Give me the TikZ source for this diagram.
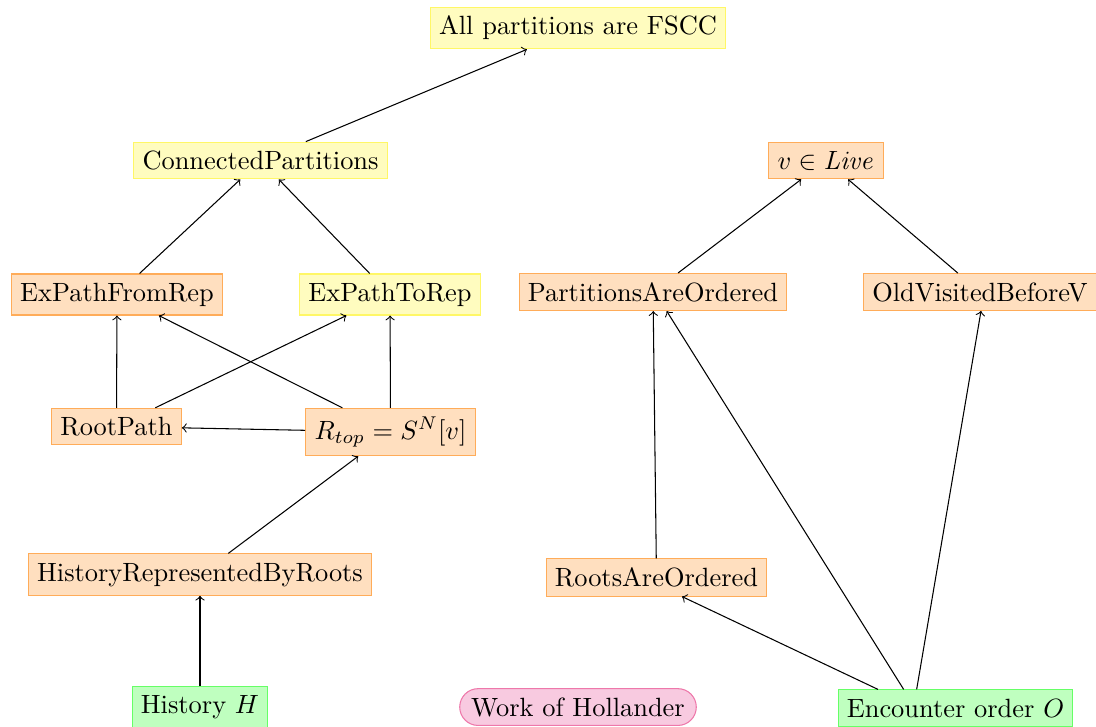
\documentclass[tikz,border=0pt]{standalone}
\usetikzlibrary{arrows}
\usetikzlibrary{shapes.misc}

\definecolor{holfill}{RGB}{248,202,224}
\definecolor{holdraw}{RGB}{238,120,170}

\begin{document}
\begin{tikzpicture}[->,>=to,auto,
                    lemma node/.style={rectangle,draw=orange!65,fill=orange!25},
                    goal node/.style={rectangle,draw=yellow!60,fill=yellow!25},
                    input node/.style={rectangle,draw=green!60,fill=green!25},
                    extern node/.style={rounded rectangle,draw=holdraw,fill=holfill}]

  \useasboundingbox (0,0) rectangle (14.593,-9.667);

  \node[goal node](fscc) at (7.696,-0.373) {All partitions are FSCC};
  \node[goal node](conn) at (3.469,-2.137) {ConnectedPartitions};
  \node[lemma node](live) at (10.998,-2.137) {$v \in \mathit{Live}$};
  \node[lemma node](from) at (1.558,-3.921) {ExPathFromRep};
  \node[goal node](to) at (5.193,-3.921) {ExPathToRep};
  \node[lemma node](pord) at (8.695,-3.888) {PartitionsAreOrdered};
  \node[lemma node](oldv) at (13.049,-3.888) {OldVisitedBeforeV};
  \node[lemma node](root) at (1.551,-5.679) {RootPath};
  \node[lemma node](rtop) at (5.200,-5.752) {$R_{top} = S^N[v]$};
  \node[lemma node](hist) at (2.663,-7.650) {HistoryRepresentedByRoots};
  \node[lemma node](rord) at (8.741,-7.689) {RootsAreOrdered};
  \node[input node](hh) at (2.663,-9.414) {History $H$};
  \node[extern node](holl) at (7.696,-9.414) {Work of Hollander};
  \node[input node](enc) at (12.722,-9.427) {Encounter order $O$};

  \path
    (conn) edge (fscc)
    (from) edge (conn)
    (to) edge (conn)
    (pord) edge (live)
    (oldv) edge (live)
    (root) edge (from)
    (rtop) edge (from)
    (root) edge (to)
    (rtop) edge (to)
    (rtop) edge (root)
    (hist) edge (rtop)
    (hh) edge (hist)
    (rord) edge (pord);

  % the order lines leave the green box left of its middle
  \draw ([xshift=-1.032cm]enc.north) -- ([xshift=0.340cm]rord.south);
  \draw ([xshift=-0.690cm]enc.north) -- ([xshift=0.182cm]pord.south);
  \draw ([xshift=-0.517cm]enc.north) -- ([xshift=0.013cm]oldv.south);
\end{tikzpicture}
\end{document}
